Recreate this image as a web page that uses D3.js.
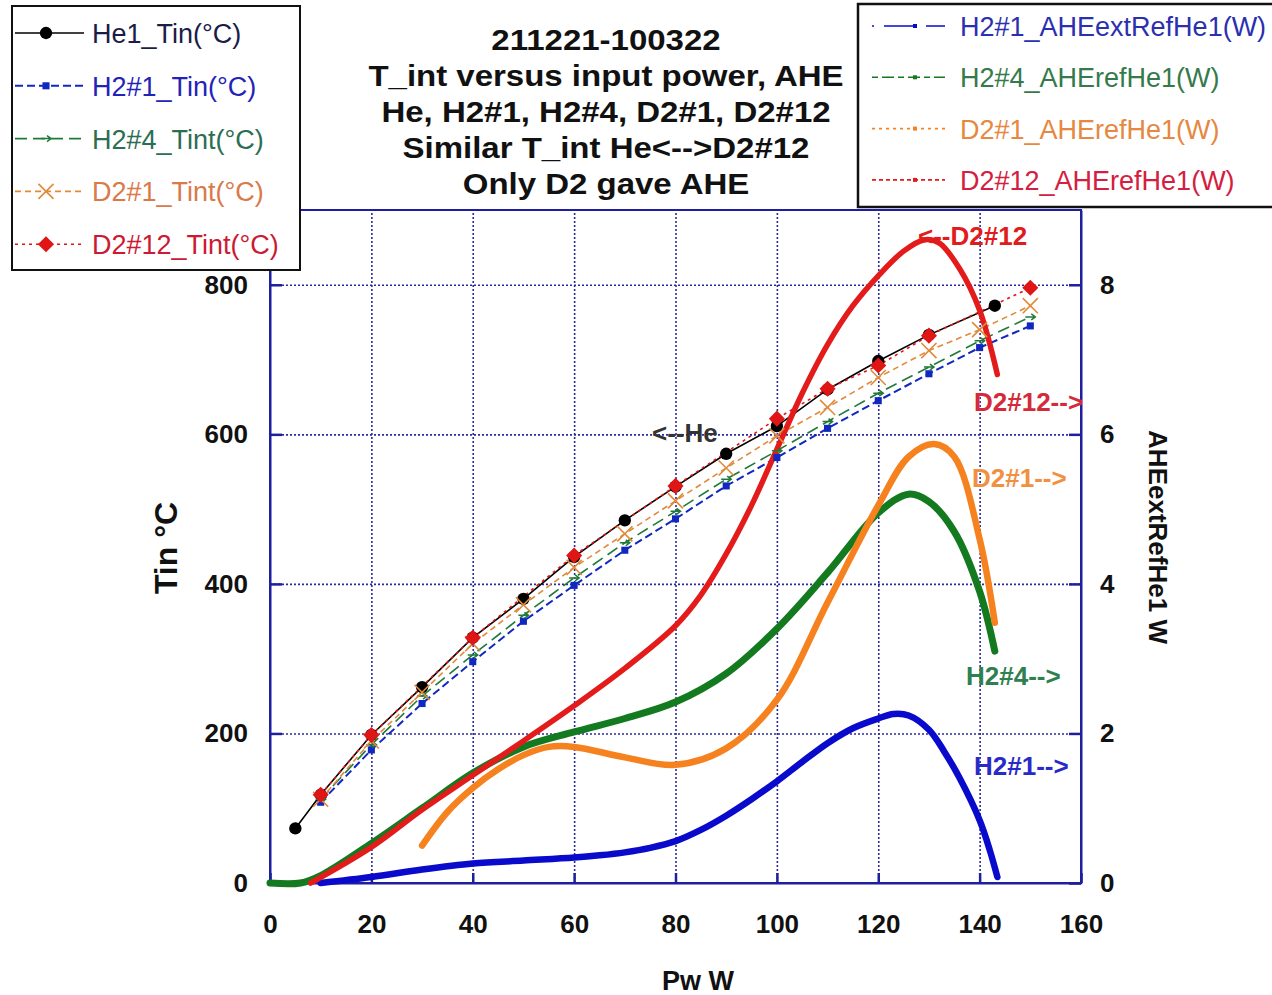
<!DOCTYPE html>
<html>
<head>
<meta charset="utf-8">
<script src="https://cdn.jsdelivr.net/npm/d3@7"></script>
<style>
  body { margin: 0; background: #fff; }
  svg { display: block; font-family: "Liberation Sans", Arial, sans-serif; }
</style>
</head>
<body>
<svg id="chart" width="1272" height="995"></svg>
<script>
// power axis ticks / left & right ticks
var xTicks = [0, 20, 40, 60, 80, 100, 120, 140, 160];
var yLeftTicks = [0, 200, 400, 600, 800];
var yRightTicks = [0, 2, 4, 6, 8];

// T_int series (left axis)
var he1X = [5, 10, 20, 30, 40, 50, 60, 70, 80, 90, 100, 110, 120, 130, 143];
var he1Y = [73, 118, 198, 262, 328, 380, 436, 485, 530, 574, 611, 660, 698, 733, 772];
var h2n1X = [10, 20, 30, 40, 50, 60, 70, 80, 90, 100, 110, 120, 130, 140, 150];
var h2n1Y = [108, 178, 240, 296, 350, 398, 445, 487, 531, 569, 608, 645, 681, 716, 745];
var h2n4X = [10, 20, 30, 40, 50, 60, 70, 80, 90, 100, 110, 120, 130, 140, 150];
var h2n4Y = [112, 185, 250, 305, 358, 408, 455, 497, 540, 578, 617, 655, 690, 725, 757];
var d2n1X = [10, 20, 30, 40, 50, 60, 70, 80, 90, 100, 110, 120, 130, 140, 150];
var d2n1Y = [112, 190, 255, 320, 372, 422, 467, 511, 555, 598, 636, 676, 712, 740, 772];
var d2n12X = [10, 20, 40, 60, 80, 100, 110, 120, 130, 150];
var d2n12Y = [118, 198, 328, 438, 531, 621, 661, 692, 732, 796];

// AHE series (right axis, W)
var aheH2n1X = [10, 20, 30, 40, 50, 60, 65, 70, 75, 80, 85, 90, 95, 100, 105, 110, 115, 120, 123, 126, 130, 133, 136, 140, 142, 143.5];
var aheH2n1Y = [0, 0.08, 0.18, 0.26, 0.3, 0.34, 0.37, 0.41, 0.47, 0.56, 0.71, 0.9, 1.12, 1.36, 1.62, 1.87, 2.07, 2.2, 2.26, 2.24, 2.05, 1.76, 1.41, 0.84, 0.44, 0.08];
var aheH2n4X = [0, 6, 10, 20, 30, 40, 50, 60, 70, 80, 90, 100, 110, 120, 126, 130, 135, 140, 143];
var aheH2n4Y = [0, 0, 0.1, 0.53, 1.0, 1.47, 1.82, 2.02, 2.2, 2.42, 2.8, 3.4, 4.15, 4.95, 5.2, 5.1, 4.7, 3.9, 3.1];
var aheD2n1X = [30, 35, 40, 45, 50, 55, 60, 70, 80, 90, 100, 110, 120, 126, 131, 135, 140, 143];
var aheD2n1Y = [0.5, 0.95, 1.27, 1.52, 1.71, 1.82, 1.82, 1.68, 1.58, 1.8, 2.45, 3.75, 5.05, 5.7, 5.87, 5.7, 4.6, 3.48];
var aheD2n12X = [8, 20, 30, 40, 50, 60, 70, 80, 85, 90, 95, 100, 105, 110, 115, 120, 125, 129, 132, 136, 140, 143.5];
var aheD2n12Y = [0, 0.48, 0.98, 1.44, 1.9, 2.37, 2.87, 3.44, 3.85, 4.4, 5.05, 5.8, 6.55, 7.2, 7.72, 8.12, 8.45, 8.6, 8.56, 8.22, 7.66, 6.8];

var titleLines = ["211221-100322", "T_int versus input power, AHE", "He, H2#1, H2#4, D2#1, D2#12",
                  "Similar T_int He<-->D2#12", "Only D2 gave AHE"];

var svg = d3.select("#chart");
var plotLeft = 270, plotRight = 1081, plotTop = 210, plotBottom = 883;

var x = d3.scaleLinear().domain([0, 160]).range([plotLeft, plotRight]);
var yL = d3.scaleLinear().domain([0, 900]).range([plotBottom, plotTop]);
var yR = d3.scaleLinear().domain([0, 9]).range([plotBottom, plotTop]);

var gridColor = "#2b2b9c", axisColor = "#1e1ea0";

function zip(xs, ys) { return xs.map(function(v, i) { return [v, ys[i]]; }); }

// grid (dotted)
svg.append("g").attr("transform", "translate(0," + plotBottom + ")")
  .call(d3.axisBottom(x).tickValues(xTicks.slice(1, -1)).tickSize(-(plotBottom - plotTop)).tickFormat(""))
  .call(function(g) {
    g.select(".domain").remove();
    g.selectAll("line").attr("stroke", gridColor).attr("stroke-width", 1.6).attr("stroke-dasharray", "2,2");
  });
svg.append("g").attr("transform", "translate(" + plotLeft + ",0)")
  .call(d3.axisLeft(yL).tickValues(yLeftTicks.slice(1)).tickSize(-(plotRight - plotLeft)).tickFormat(""))
  .call(function(g) {
    g.select(".domain").remove();
    g.selectAll("line").attr("stroke", gridColor).attr("stroke-width", 1.6).attr("stroke-dasharray", "2,2");
  });

// frame
svg.append("rect").attr("x", plotLeft).attr("y", plotTop)
  .attr("width", plotRight - plotLeft).attr("height", plotBottom - plotTop)
  .attr("fill", "none").attr("stroke", axisColor).attr("stroke-width", 2);

function styleAxis(g) {
  g.select(".domain").attr("stroke", axisColor).attr("stroke-width", 2);
  g.selectAll(".tick line").attr("stroke", axisColor).attr("stroke-width", 2.5);
  g.selectAll("text").attr("fill", "#111").attr("font-size", 26).attr("font-weight", "bold")
    .attr("font-family", "'Liberation Sans', Arial, sans-serif");
}
svg.append("g").attr("transform", "translate(0," + plotBottom + ")")
  .call(d3.axisBottom(x).tickValues(xTicks).tickSizeInner(-10).tickSizeOuter(0).tickPadding(32))
  .call(styleAxis);
svg.append("g").attr("transform", "translate(" + plotLeft + ",0)")
  .call(d3.axisLeft(yL).tickValues(yLeftTicks).tickSizeInner(-12).tickSizeOuter(0).tickPadding(22))
  .call(styleAxis);
svg.append("g").attr("transform", "translate(" + plotRight + ",0)")
  .call(d3.axisRight(yR).tickValues(yRightTicks).tickSizeInner(-12).tickSizeOuter(0).tickPadding(19))
  .call(styleAxis);

// axis titles
svg.append("text").attr("transform", "translate(177,548) rotate(-90)").attr("text-anchor", "middle")
  .attr("font-size", 32).attr("font-weight", "bold").attr("fill", "#111").text("Tin °C");
svg.append("text").attr("transform", "translate(1149,537) rotate(90)").attr("text-anchor", "middle")
  .attr("font-size", 26).attr("font-weight", "bold").attr("fill", "#111").text("AHEextRefHe1 W");
svg.append("text").attr("x", 698).attr("y", 990).attr("text-anchor", "middle")
  .attr("font-size", 27).attr("font-weight", "bold").attr("fill", "#111").text("Pw W");

// thin T_int series
var tinSeries = [
  {name: "He1_Tin(°C)", xs: he1X, ys: he1Y, color: "#000000", text: "#1c1c48", dash: null, w: 1.6, mark: "circle"},
  {name: "H2#1_Tin(°C)", xs: h2n1X, ys: h2n1Y, color: "#1028c0", text: "#2323b8", dash: "8,4", w: 2, mark: "square"},
  {name: "H2#4_Tint(°C)", xs: h2n4X, ys: h2n4Y, color: "#1f7a3a", text: "#2b6e52", dash: "12,6", w: 1.6, mark: "arrow"},
  {name: "D2#1_Tint(°C)", xs: d2n1X, ys: d2n1Y, color: "#e08a3a", text: "#d97a4a", dash: "6,4", w: 1.6, mark: "x"},
  {name: "D2#12_Tint(°C)", xs: d2n12X, ys: d2n12Y, color: "#e01515", text: "#cc1a33", dash: "3,4", w: 1.6, mark: "diamond"}
];
var aheSeries = [
  {name: "H2#1_AHEextRefHe1(W)", xs: aheH2n1X, ys: aheH2n1Y, color: "#0a0acc", text: "#2a30b0", w: 6.5},
  {name: "H2#4_AHErefHe1(W)", xs: aheH2n4X, ys: aheH2n4Y, color: "#137a20", text: "#357a4a", w: 7},
  {name: "D2#1_AHErefHe1(W)", xs: aheD2n1X, ys: aheD2n1Y, color: "#f5821f", text: "#e6883f", w: 6.5},
  {name: "D2#12_AHErefHe1(W)", xs: aheD2n12X, ys: aheD2n12Y, color: "#e31b1b", text: "#d42040", w: 5.5}
];
var legendDash = ["2,10,30,0", "6,4,12,4", "3,4,3,4", "4,3"];

var thinLine = d3.line().x(function(d) { return x(d[0]); }).y(function(d) { return yL(d[1]); });
tinSeries.forEach(function(s) {
  svg.append("path").datum(zip(s.xs, s.ys)).attr("d", thinLine).attr("fill", "none")
    .attr("stroke", s.color).attr("stroke-width", s.w).attr("stroke-dasharray", s.dash);
});

var thickLine = d3.line().curve(d3.curveCatmullRom.alpha(0.5))
  .x(function(d) { return x(d[0]); }).y(function(d) { return yR(d[1]); });
aheSeries.forEach(function(s) {
  svg.append("path").datum(zip(s.xs, s.ys)).attr("d", thickLine).attr("fill", "none")
    .attr("stroke", s.color).attr("stroke-width", s.w).attr("stroke-linecap", "round");
});

function marker(g, type, cx, cy, color) {
  var m;
  if (type === "circle") {
    m = g.append("path").attr("d", d3.symbol(d3.symbolCircle, 120)()).attr("fill", color);
  } else if (type === "square") {
    m = g.append("path").attr("d", d3.symbol(d3.symbolSquare, 50)()).attr("fill", color);
  } else if (type === "diamond") {
    m = g.append("path").attr("d", d3.symbol(d3.symbolSquare, 130)()).attr("fill", color);
    m.attr("transform", "translate(" + cx + "," + cy + ") rotate(45)");
    return m;
  } else if (type === "x") {
    m = g.append("path").attr("d", d3.symbol(d3.symbolTimes || d3.symbolX, 150)())
      .attr("fill", "none").attr("stroke", color).attr("stroke-width", 1.6);
  } else if (type === "arrow") {
    m = g.append("path").attr("d", "M-5,0H4M1,-3L5,0L1,3").attr("fill", "none")
      .attr("stroke", color).attr("stroke-width", 1.5);
  } else {
    m = g.append("path").attr("d", d3.symbol(d3.symbolSquare, 16)()).attr("fill", color);
  }
  m.attr("transform", "translate(" + cx + "," + cy + ")");
  return m;
}

tinSeries.forEach(function(s) {
  var g = svg.append("g");
  zip(s.xs, s.ys).forEach(function(p) { marker(g, s.mark, x(p[0]), yL(p[1]), s.color); });
});

// annotations
var notes = [
  {t: "<--D2#12", x: 918, y: 245, c: "#e01c1c"},
  {t: "D2#12-->", x: 974, y: 411, c: "#d42a3a"},
  {t: "D2#1-->", x: 972, y: 487, c: "#f09040"},
  {t: "H2#4-->", x: 966, y: 685, c: "#2e8050"},
  {t: "H2#1-->", x: 974, y: 775, c: "#2a2ac8"},
  {t: "<--He", x: 652, y: 442, c: "#333333"}
];
notes.forEach(function(n) {
  svg.append("text").attr("x", n.x).attr("y", n.y).attr("font-size", 26).attr("font-weight", "bold")
    .attr("fill", n.c).text(n.t);
});

// title
var title = svg.append("text").attr("transform", "translate(606,0) scale(1.1,1)")
  .attr("text-anchor", "middle").attr("font-size", 30)
  .attr("font-weight", "bold").attr("fill", "#111");
titleLines.forEach(function(t, i) {
  title.append("tspan").attr("x", 0).attr("y", 50 + i * 36).text(t);
});

// left legend
var legL = svg.append("g");
legL.append("rect").attr("x", 12).attr("y", 6).attr("width", 288).attr("height", 264)
  .attr("fill", "#fff").attr("stroke", "#111").attr("stroke-width", 2);
tinSeries.forEach(function(s, i) {
  var cy = 33 + i * 52.8;
  legL.append("line").attr("x1", 15).attr("x2", 84).attr("y1", cy).attr("y2", cy)
    .attr("stroke", s.color).attr("stroke-width", s.w).attr("stroke-dasharray", s.dash);
  marker(legL, s.mark, 46, cy, s.color);
  legL.append("text").attr("x", 92).attr("y", cy + 10).attr("font-size", 27).attr("fill", s.text).text(s.name);
});

// right legend
var legR = svg.append("g");
legR.append("rect").attr("x", 858).attr("y", 4).attr("width", 420).attr("height", 203)
  .attr("fill", "#fff").attr("stroke", "#111").attr("stroke-width", 2.5);
aheSeries.forEach(function(s, i) {
  var cy = 26 + i * 51.3;
  legR.append("line").attr("x1", 872).attr("x2", 945).attr("y1", cy).attr("y2", cy)
    .attr("stroke", s.color).attr("stroke-width", 1.6).attr("stroke-dasharray", legendDash[i]);
  marker(legR, "small", 915, cy, s.color);
  legR.append("text").attr("x", 960).attr("y", cy + 10).attr("font-size", 27).attr("fill", s.text).text(s.name);
});
</script>
</body>
</html>
